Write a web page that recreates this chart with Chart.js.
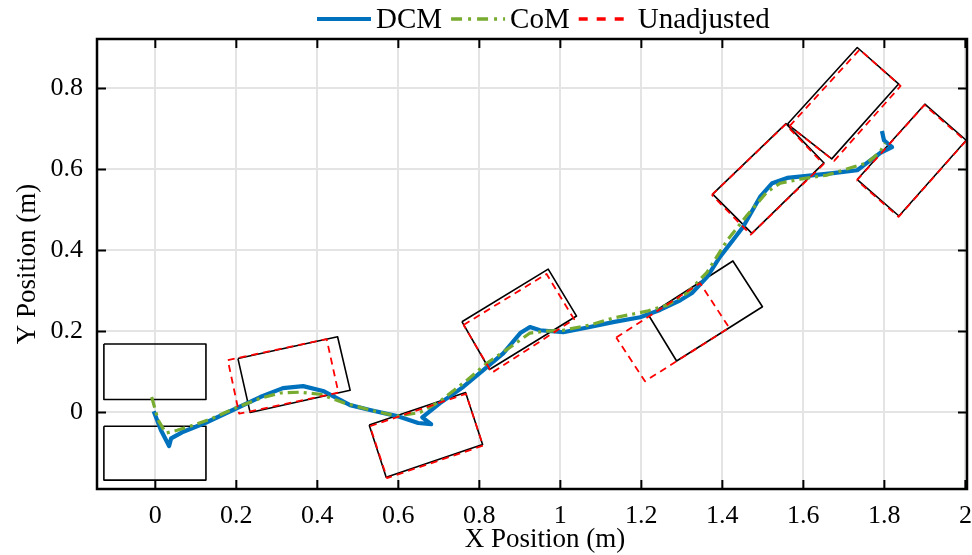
<!DOCTYPE html>
<html>
<head>
<meta charset="utf-8">
<title>DCM / CoM footstep trajectory</title>
<script src="https://cdn.jsdelivr.net/npm/chart.js@4.4.1/dist/chart.umd.min.js"></script>
<style>
  html, body { margin: 0; padding: 0; background: #fff; }
  #wrap { width: 972px; height: 555px; }
</style>
</head>
<body>
<div id="wrap"><canvas id="plot" width="972" height="555"></canvas></div>
<script>
// Axis limits and tick values (metres)
const xRange = [-0.144, 2.004];
const yRange = [-0.189, 0.922];
const xTicks = [0, 0.2, 0.4, 0.6, 0.8, 1, 1.2, 1.4, 1.6, 1.8, 2];
const yTicks = [0, 0.2, 0.4, 0.6, 0.8];

// DCM trajectory
const dcmX = [-0.004, 0.014, 0.034, 0.039, 0.066, 0.123, 0.202, 0.259, 0.315, 0.365, 0.414, 0.481, 0.530, 0.597, 0.649, 0.681, 0.659, 0.703, 0.760, 0.809, 0.859, 0.901, 0.925, 0.950, 1.007, 1.073, 1.130, 1.197, 1.246, 1.296, 1.325, 1.362, 1.394, 1.426, 1.451, 1.493, 1.523, 1.560, 1.609, 1.673, 1.733, 1.757, 1.789, 1.819, 1.799, 1.794];
const dcmY = [0.003, -0.044, -0.083, -0.064, -0.049, -0.026, 0.011, 0.038, 0.060, 0.065, 0.053, 0.018, 0.006, -0.009, -0.026, -0.029, -0.012, 0.023, 0.063, 0.104, 0.146, 0.196, 0.211, 0.203, 0.198, 0.211, 0.223, 0.235, 0.253, 0.277, 0.295, 0.334, 0.384, 0.425, 0.458, 0.532, 0.566, 0.579, 0.584, 0.591, 0.598, 0.616, 0.640, 0.655, 0.672, 0.695];

// CoM trajectory
const comX = [-0.009, 0.007, 0.026, 0.054, 0.086, 0.135, 0.202, 0.259, 0.308, 0.357, 0.407, 0.468, 0.530, 0.597, 0.654, 0.703, 0.770, 0.819, 0.876, 0.925, 0.967, 1.007, 1.073, 1.130, 1.214, 1.264, 1.313, 1.362, 1.412, 1.461, 1.510, 1.543, 1.592, 1.659, 1.723, 1.757, 1.789, 1.802];
const comY = [0.038, -0.019, -0.051, -0.044, -0.034, -0.017, 0.013, 0.035, 0.048, 0.050, 0.045, 0.023, 0.006, -0.009, 0.000, 0.028, 0.080, 0.122, 0.161, 0.196, 0.201, 0.203, 0.216, 0.233, 0.250, 0.265, 0.295, 0.346, 0.425, 0.487, 0.544, 0.566, 0.576, 0.586, 0.606, 0.616, 0.643, 0.665];

// Footsteps actually taken (corner points, in order)
const stepsAdjusted = [
  [[-0.127, 0.169], [0.125, 0.169], [0.125, 0.032], [-0.127, 0.032]],
  [[-0.127, -0.034], [0.125, -0.034], [0.125, -0.167], [-0.127, -0.167]],
  [[0.204, 0.133], [0.450, 0.187], [0.481, 0.055], [0.234, 0.000]],
  [[0.528, -0.031], [0.766, 0.049], [0.808, -0.079], [0.570, -0.160]],
  [[0.757, 0.224], [0.970, 0.354], [1.040, 0.238], [0.825, 0.106]],
  [[1.218, 0.240], [1.426, 0.374], [1.499, 0.261], [1.287, 0.127]],
  [[1.376, 0.539], [1.557, 0.713], [1.651, 0.616], [1.473, 0.442]],
  [[1.561, 0.712], [1.733, 0.901], [1.835, 0.811], [1.670, 0.626]],
  [[1.733, 0.575], [1.900, 0.761], [2.002, 0.672], [1.836, 0.485]]
];

// Planned footsteps before adjustment
const stepsUnadjusted = [
  [[0.179, 0.129], [0.423, 0.181], [0.452, 0.049], [0.207, -0.003]],
  [[0.530, -0.034], [0.767, 0.046], [0.809, -0.082], [0.572, -0.162]],
  [[0.761, 0.216], [0.966, 0.342], [1.034, 0.230], [0.831, 0.098]],
  [[1.138, 0.185], [1.345, 0.319], [1.417, 0.209], [1.209, 0.077]],
  [[1.374, 0.537], [1.556, 0.711], [1.650, 0.613], [1.470, 0.439]],
  [[1.566, 0.707], [1.739, 0.896], [1.840, 0.806], [1.676, 0.621]],
  [[1.732, 0.573], [1.899, 0.759], [2.001, 0.670], [1.835, 0.483]]
];

const BLUE = '#0072bd';
const GREEN = '#77ac30';
const RED = '#ff0000';
const FONT = '"Liberation Serif", "Times New Roman", serif';

const toPoints = (xs, ys) => xs.map((x, i) => ({ x: x, y: ys[i] }));
const closed = corners => corners.concat([corners[0]]).map(c => ({ x: c[0], y: c[1] }));

const datasets = [];
stepsUnadjusted.forEach(s => datasets.push({
  data: closed(s), borderColor: RED, borderWidth: 1.8, borderDash: [7, 5], order: 1
}));
datasets.push({ label: 'CoM', data: toPoints(comX, comY), borderColor: GREEN, borderWidth: 3.2, borderDash: [11, 5, 3, 5], order: 2 });
datasets.push({ label: 'DCM', data: toPoints(dcmX, dcmY), borderColor: BLUE, borderWidth: 4.2, order: 3 });
stepsAdjusted.forEach(s => datasets.push({
  data: closed(s), borderColor: '#000', borderWidth: 1.6, order: 4
}));
datasets.forEach(d => {
  d.showLine = true;
  d.pointRadius = 0;
  d.pointHoverRadius = 0;
  d.tension = 0;
  d.borderJoinStyle = 'round';
});

// Frame box with inward tick marks on all four sides, plus the x label
const frame = {
  id: 'frame',
  afterDatasetsDraw(chart) {
    const { ctx, chartArea: a, scales: { x, y } } = chart;
    const len = 9;
    ctx.save();
    ctx.strokeStyle = '#000';
    ctx.lineWidth = 2;
    ctx.beginPath();
    xTicks.forEach(v => {
      const px = x.getPixelForValue(v);
      ctx.moveTo(px, a.bottom); ctx.lineTo(px, a.bottom - len);
      ctx.moveTo(px, a.top); ctx.lineTo(px, a.top + len);
    });
    yTicks.forEach(v => {
      const py = y.getPixelForValue(v);
      ctx.moveTo(a.left, py); ctx.lineTo(a.left + len, py);
      ctx.moveTo(a.right, py); ctx.lineTo(a.right - len, py);
    });
    ctx.stroke();
    ctx.lineWidth = 2.5;
    ctx.strokeRect(a.left, a.top, a.right - a.left, a.bottom - a.top);

    ctx.font = '27px ' + FONT;
    ctx.fillStyle = '#000';
    ctx.textAlign = 'center';
    ctx.textBaseline = 'middle';
    ctx.fillText('X Position (m)', 545, 540);
    ctx.restore();
  }
};

// Legend across the top
const topLegend = {
  id: 'topLegend',
  afterDraw(chart) {
    const ctx = chart.ctx;
    const items = [
      { label: 'DCM', color: BLUE, width: 4, dash: [] },
      { label: 'CoM', color: GREEN, width: 3.5, dash: [11, 6, 3, 6] },
      { label: 'Unadjusted', color: RED, width: 3.5, dash: [9, 9] }
    ];
    const yMid = 19;
    let cx = 317;
    ctx.save();
    ctx.font = '29px ' + FONT;
    ctx.textBaseline = 'middle';
    ctx.fillStyle = '#000';
    items.forEach(it => {
      ctx.beginPath();
      ctx.strokeStyle = it.color;
      ctx.lineWidth = it.width;
      ctx.setLineDash(it.dash);
      ctx.moveTo(cx, yMid);
      ctx.lineTo(cx + 54, yMid);
      ctx.stroke();
      ctx.setLineDash([]);
      cx += 59;
      ctx.fillText(it.label, cx, yMid + 1);
      cx += ctx.measureText(it.label).width + 9;
    });
    ctx.restore();
  }
};

new Chart(document.getElementById('plot'), {
  type: 'scatter',
  data: { datasets: datasets },
  options: {
    responsive: false,
    animation: false,
    devicePixelRatio: 1,
    layout: { padding: { top: 39, right: 5, left: 0, bottom: 0 } },
    plugins: { legend: { display: false }, tooltip: { enabled: false } },
    scales: {
      x: {
        type: 'linear',
        min: xRange[0],
        max: xRange[1],
        afterBuildTicks: s => { s.ticks = xTicks.map(v => ({ value: v })); },
        afterFit: s => { s.height = 66; s.paddingLeft = 0; s.paddingRight = 0; },
        grid: { color: '#e4e4e4', lineWidth: 2, drawTicks: false },
        border: { display: false },
        ticks: {
          color: '#000',
          padding: 12,
          maxRotation: 0,
          font: { family: FONT, size: 26 },
          callback: v => String(v)
        },
        title: { display: false }
      },
      y: {
        type: 'linear',
        min: yRange[0],
        max: yRange[1],
        afterBuildTicks: s => { s.ticks = yTicks.map(v => ({ value: v })); },
        afterFit: s => { s.width = 97; s.paddingTop = 0; s.paddingBottom = 0; },
        grid: { color: '#e4e4e4', lineWidth: 2, drawTicks: false },
        border: { display: false },
        ticks: {
          color: '#000',
          padding: 14,
          font: { family: FONT, size: 26 },
          callback: v => String(v)
        },
        title: {
          display: true,
          text: 'Y Position (m)',
          color: '#000',
          padding: { top: 12, bottom: 0 },
          font: { family: FONT, size: 27, lineHeight: 1.2 }
        }
      }
    }
  },
  plugins: [frame, topLegend]
});
</script>
</body>
</html>
